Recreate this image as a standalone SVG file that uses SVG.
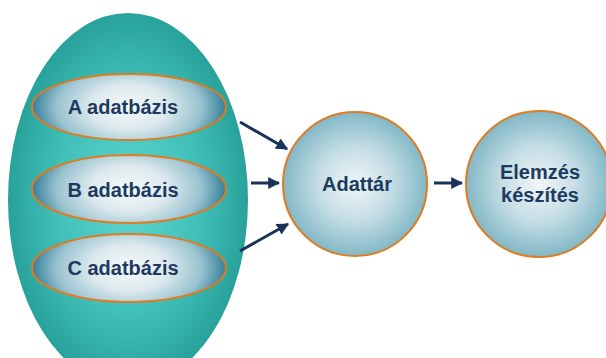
<svg xmlns="http://www.w3.org/2000/svg" width="606" height="358" viewBox="0 0 606 358">
  <defs>
    <radialGradient id="gradOuter" cx="50%" cy="50%" r="50%">
      <stop offset="0" stop-color="#5dd5d0"/>
      <stop offset="0.6" stop-color="#40c0b9"/>
      <stop offset="1" stop-color="#28a29b"/>
    </radialGradient>
    <!-- stretched vertically so the dark tone shows mainly at the left and right ends -->
    <radialGradient id="gradDb" cx="0.5" cy="0.5" r="0.5" gradientTransform="translate(0.5 0.5) scale(1 1.7) translate(-0.5 -0.5)">
      <stop offset="0" stop-color="#f6f9fa"/>
      <stop offset="0.4" stop-color="#dce9ed"/>
      <stop offset="0.75" stop-color="#98c2cf"/>
      <stop offset="1" stop-color="#347f99"/>
    </radialGradient>
    <radialGradient id="gradCircle" cx="50%" cy="50%" r="50%">
      <stop offset="0" stop-color="#f0f6f8"/>
      <stop offset="0.5" stop-color="#c6dee5"/>
      <stop offset="1" stop-color="#82b8c6"/>
    </radialGradient>
    <marker id="arrowhead" viewBox="0 0 10 10" refX="9" refY="5" markerWidth="4" markerHeight="4" orient="auto" markerUnits="strokeWidth">
      <path d="M0,0 L10,5 L0,10 Z" fill="#1b3358"/>
    </marker>
    <style>
      .db { fill: url(#gradDb); stroke: #e07b20; stroke-width: 2; }
      .node { fill: url(#gradCircle); stroke: #e07b20; stroke-width: 2; }
      .label { font-family: "Liberation Sans", Arial, sans-serif; font-weight: bold; font-size: 20px; fill: #1d3b60; text-anchor: middle; }
      .conn { stroke: #1b3358; stroke-width: 3; fill: none; marker-end: url(#arrowhead); }
    </style>
  </defs>

  <!-- outer container of the source databases -->
  <g id="sources">
    <ellipse cx="128" cy="200" rx="120" ry="187" fill="url(#gradOuter)"/>
  </g>

  <g id="dbA">
    <ellipse class="db" cx="129" cy="107" rx="97" ry="33"/>
    <text class="label" x="123" y="114">A adatbázis</text>
  </g>
  <g id="dbB">
    <ellipse class="db" cx="129" cy="189" rx="97" ry="34"/>
    <text class="label" x="123" y="197">B adatbázis</text>
  </g>
  <g id="dbC">
    <ellipse class="db" cx="129" cy="268" rx="97" ry="34"/>
    <text class="label" x="123" y="275">C adatbázis</text>
  </g>

  <g id="warehouse">
    <circle class="node" cx="355" cy="184" r="72"/>
    <text class="label" x="357" y="191">Adattár</text>
  </g>

  <g id="analysis">
    <circle class="node" cx="539" cy="184" r="73"/>
    <text class="label" x="540" y="179">Elemzés</text>
    <text class="label" x="540" y="202">készítés</text>
  </g>

  <g id="connectors">
    <line class="conn" x1="240" y1="122" x2="287" y2="149"/>
    <line class="conn" x1="251" y1="183" x2="279" y2="183"/>
    <line class="conn" x1="240" y1="251" x2="288" y2="224"/>
    <line class="conn" x1="434" y1="183" x2="462" y2="183"/>
  </g>
</svg>
